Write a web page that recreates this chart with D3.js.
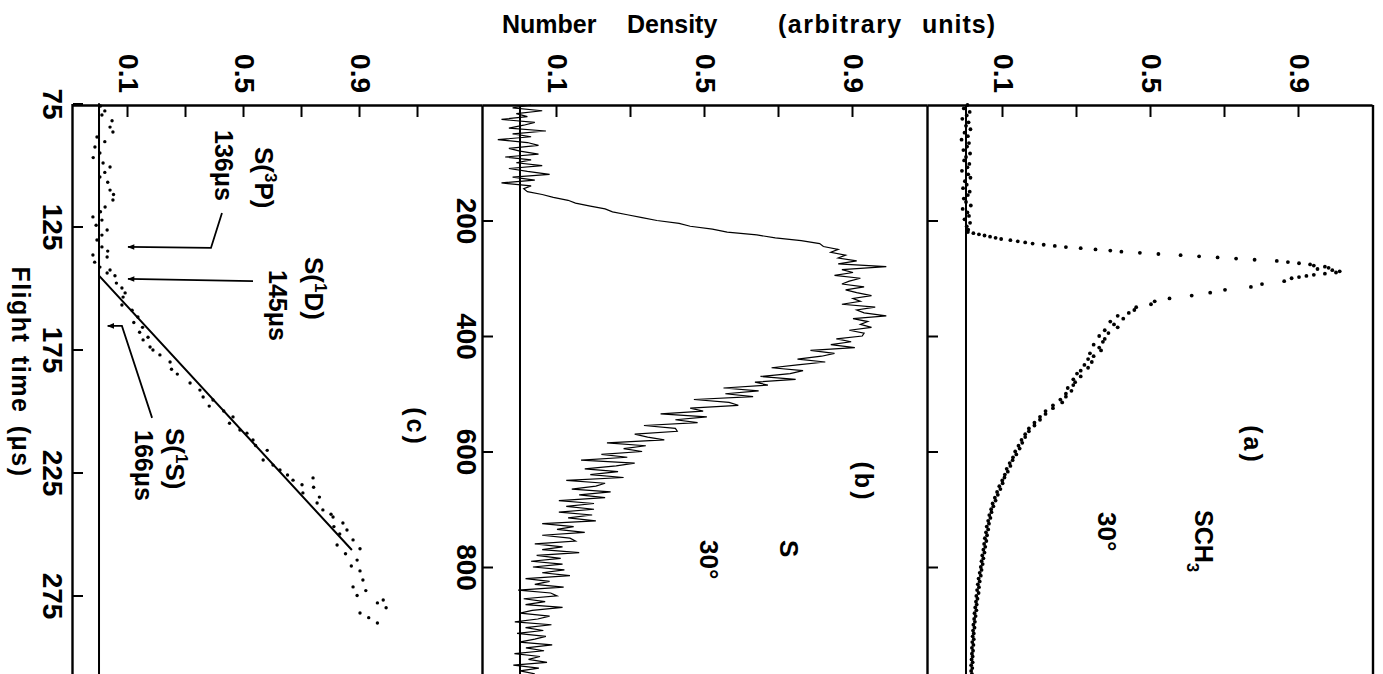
<!DOCTYPE html>
<html><head><meta charset="utf-8">
<script src="https://cdn.jsdelivr.net/npm/d3@7"></script>
<style>
html,body{margin:0;padding:0;background:#fff;}
svg{display:block;}
</style></head><body>
<svg id="chart" width="1383" height="674"></svg>
<script>
// ---------------- DATA ----------------
const densTicksAB = [0.1,0.3,0.5,0.7,0.9];
const densTicksC = [0.1,0.3,0.5,0.7,0.9,1.1];
const densLabels = [0.1,0.5,0.9];
const timeTicksAB = [200,400,600,800];
const timeTicksC = [75,125,175,225,275];
const panelNames = ["(a)","(b)","(c)"];

// (a) SCH3, 30 deg
const aTime = [0,6,12,18,24,30,36,42,48,54,60,66,72,78,84,90,96,102,108,114,120,126,132,138,144,150,156,162,168,174,180,186,192,198,204,210,216,
220,222,224,226,228,230,232,234,236,238,240,242,244,246,248,250,252,254,256,258,260,262,264,266,268,270,272,274,276,278,280,282,284,286,288,290,292,294,296,298,300,
305,310,315,320,325,330,335,340,345,350,355,360,365,370,375,380,385,390,395,400,
405,410,415,420,425,430,435,440,445,450,455,460,465,470,475,480,485,490,495,500,
505,510,515,520,525,530,535,540,545,550,555,560,565,570,575,580,585,590,595,600,
605,610,615,620,625,630,635,640,645,650,655,660,665,670,675,680,685,690,695,700,
705,710,715,720,725,730,735,740,745,750,755,760,765,770,775,780,785,790,795,800,
805,810,815,820,825,830,835,840,845,850,855,860,865,870,875,880,885,890,895,900,
905,910,915,920,925,930,935,940,945,950,955,960,965,970,975,980,985];
const aDens = [0.004,-0.006,0.010,0.002,-0.010,0.007,0.000,0.012,-0.004,0.005,-0.012,0.008,0.003,-0.007,0.011,0.000,-0.005,0.009,0.004,-0.011,0.006,0.012,-0.003,0.002,-0.008,0.010,0.005,-0.006,0.000,0.013,-0.009,0.004,0.008,-0.004,0.011,0.002,0.006,
0.005,0.02,0.035,0.05,0.065,0.08,0.095,0.12,0.14,0.16,0.18,0.21,0.24,0.27,0.31,0.35,0.39,0.42,0.47,0.52,0.58,0.63,0.68,0.73,0.78,0.84,0.87,0.90,0.93,0.94,0.97,0.98,0.95,0.99,1.01,1.00,0.97,0.94,0.92,0.90,0.88,
0.86,0.80,0.77,0.70,0.66,0.61,0.55,0.51,0.50,0.46,0.455,0.44,0.41,0.425,0.39,0.40,0.41,0.375,0.385,0.36,
0.375,0.37,0.345,0.36,0.365,0.335,0.345,0.33,0.34,0.32,0.33,0.31,0.30,0.31,0.29,0.295,0.29,0.275,0.285,0.27,
0.27,0.255,0.26,0.235,0.235,0.215,0.215,0.20,0.20,0.185,0.185,0.17,0.17,0.16,0.16,0.15,0.152,0.142,0.145,0.133,
0.136,0.127,0.126,0.118,0.12,0.11,0.113,0.105,0.104,0.098,0.099,0.09,0.093,0.084,0.086,0.078,0.08,0.072,0.074,0.068,
0.069,0.063,0.066,0.06,0.062,0.056,0.06,0.054,0.057,0.051,0.055,0.049,0.052,0.047,0.05,0.044,0.047,0.042,0.045,0.04,
0.042,0.037,0.04,0.034,0.037,0.032,0.035,0.03,0.034,0.028,0.031,0.027,0.029,0.025,0.028,0.023,0.026,0.022,0.024,0.02,
0.023,0.019,0.021,0.018,0.021,0.017,0.02,0.016,0.019,0.016,0.018,0.015,0.018,0.014,0.017,0.014,0.016];

// (b) S, 30 deg
const bTime = [0,5,10,15,20,25,30,35,40,45,50,55,60,65,70,75,80,85,90,95,
100,105,110,115,120,125,130,135,140,145,150,155,160,165,170,175,180,185,190,195,
200,205,210,215,220,225,230,235,240,245,250,255,260,265,270,275,280,285,290,295,
300,305,310,315,320,325,330,335,340,345,350,355,360,365,370,375,380,385,390,395,
400,405,410,415,420,425,430,435,440,445,450,455,460,465,470,475,480,485,490,495,
500,505,510,515,520,525,530,535,540,545,550,555,560,565,570,575,580,585,590,595,
600,605,610,615,620,625,630,635,640,645,650,655,660,665,670,675,680,685,690,695,
700,705,710,715,720,725,730,735,740,745,750,755,760,765,770,775,780,785,790,795,
800,805,810,815,820,825,830,835,840,845,850,855,860,865,870,875,880,885,890,895,
900,905,910,915,920,925,930,935,940,945,950,955,960,965,970,975,980,985];
const bDens = [0.03,-0.02,0.06,-0.01,0.02,-0.05,0.04,0.01,-0.03,0.07,-0.02,0.03,-0.06,0.02,0.05,-0.03,0.00,0.05,-0.04,0.03,
-0.01,0.06,-0.03,0.02,0.08,-0.02,0.04,-0.05,0.03,0.01,0.02,0.06,0.09,0.13,0.15,0.19,0.23,0.25,0.29,0.33,
0.37,0.43,0.46,0.52,0.56,0.64,0.69,0.76,0.81,0.82,0.86,0.84,0.88,0.86,0.91,0.86,0.99,0.87,0.90,0.85,
0.92,0.89,0.87,0.93,0.88,0.91,0.95,0.90,0.92,0.87,0.96,0.91,0.93,0.99,0.90,0.94,0.92,0.95,0.89,0.93,
0.925,0.855,0.895,0.84,0.905,0.785,0.85,0.815,0.75,0.825,0.75,0.68,0.765,0.73,0.65,0.745,0.635,0.67,0.55,0.645,
0.555,0.63,0.47,0.565,0.59,0.46,0.495,0.38,0.505,0.42,0.48,0.335,0.42,0.425,0.31,0.345,0.39,0.235,0.34,0.28,
0.33,0.22,0.29,0.165,0.31,0.26,0.175,0.265,0.19,0.28,0.125,0.23,0.205,0.14,0.245,0.16,0.23,0.105,0.20,0.125,
0.20,0.105,0.195,0.13,0.205,0.06,0.145,0.10,0.175,0.06,0.135,0.15,0.04,0.115,0.06,0.16,0.045,0.11,0.03,0.115,
0.035,0.12,0.06,0.135,0.015,0.08,0.04,0.118,-0.005,0.083,0.10,0.01,0.068,0.015,0.115,0.033,0.0,0.08,0.048,-0.014,
0.085,0.015,0.063,-0.008,0.07,0.04,-0.002,0.087,0.016,0.065,-0.015,0.054,0.023,0.073,-0.018,0.051,0.0,0.04];

// (c) S, product state fit
const cTime = [76,78,79.7,82,84.6,86.6,88.6,90.5,92.7,95.1,97,99.2,100.8,103,104.9,107,110.2,112,114.2,117.1,119,121.1,122.4,124.5,126.4,128.5,130.5,133.3,135,136.6,137.4,139.5,141.5,142.7,143.9,145,
148,150,152,153.7,156.9,159,161.8,164,166,168,170,171.1,174,175.2,177.2,180.1,183,185,188.6,191.5,194.3,195.5,198,200,202.4,205,207.7,209,211.8,214,216,219.9,222,224,226,227.2,228.1,230,231,233.3,235,237.4,240.2,242,243.1,245.5,247,248.4,250,252.4,254.5,256,258,260.6,263,265,268.7,271.5,273,275,276.8,278,280,282.1,284,286.2];
const cDens = [0.005,0.02,0.01,0.045,0.038,0.048,-0.007,0.02,-0.014,0.003,-0.02,0.014,0.038,0.02,0.003,0.03,0.038,0.05,0.048,0.021,0.005,-0.021,0.01,-0.01,0.028,0.01,-0.007,0.01,0.03,-0.021,0.028,-0.015,0.003,0.038,0.028,0.055,
0.06,0.079,0.09,0.083,0.079,0.114,0.134,0.12,0.15,0.14,0.169,0.152,0.176,0.186,0.21,0.245,0.25,0.27,0.314,0.348,0.359,0.393,0.38,0.43,0.462,0.45,0.486,0.51,0.531,0.54,0.58,0.566,0.60,0.624,0.65,0.738,0.669,0.70,0.74,0.703,0.76,0.752,0.772,0.80,0.807,0.841,0.81,0.855,0.83,0.876,0.821,0.90,0.85,0.89,0.87,0.90,0.91,0.876,0.92,0.89,0.98,0.96,0.99,0.90,0.93,0.96];
const cFitTime = [75,145,256.5];
const cFitDens = [0,0,0.872];

// annotation arrows in panel (c) units [time, density]
const arrowS3P = [[119.5,0.424],[133.7,0.386],[133.3,0.10]];
const arrowS1D = [[147.2,0.531],[146.3,0.10]];
const arrowS1S = [[202.8,0.183],[165.4,0.079],[165.4,0.03]];

// ---------------- DRAW ----------------
const W = 1383, H = 674;
const FONT = '"Liberation Sans", Arial, sans-serif';
const svg = d3.select('#chart');
svg.append('rect').attr('width', W).attr('height', H).attr('fill', '#fff');

// whole figure drawn upright, then turned 90 degrees clockwise
const g = svg.append('g').attr('transform', `translate(${W},0) rotate(90)`);

const tAB = d3.scaleLinear().domain([0, 1000]).range([105, 682.5]);
const tC  = d3.scaleLinear().domain([75, 310]).range([103.5, 681.6]);
const dA = d3.scaleLinear().domain([-0.1027, 1.1]).range([455, 10]);
const dB = d3.scaleLinear().domain([-0.1, 1.1027]).range([900, 455]);
const dC = d3.scaleLinear().domain([-0.0897, 1.3241]).range([1310, 900]);

const fmtD = d => densLabels.some(v => Math.abs(v - d) < 1e-9) ? d3.format('.1f')(d) : '';

function styleAxis(sel, fs) {
  sel.select('.domain').attr('stroke', '#000').attr('stroke-width', 2.4);
  sel.selectAll('.tick line').attr('stroke', '#000').attr('stroke-width', 2);
  sel.selectAll('.tick text').attr('font-size', fs).attr('font-family', FONT)
     .attr('font-weight', 'bold').attr('fill', '#000');
}

// density axes (original left side)
[[dA, densTicksAB], [dB, densTicksAB], [dC, densTicksC]].forEach(([sc, tv]) => {
  g.append('g').attr('transform', 'translate(105,0)')
    .call(d3.axisLeft(sc).tickValues(tv).tickFormat(fmtD).tickSizeInner(-12).tickSizeOuter(0).tickPadding(12))
    .call(s => styleAxis(s, 28));
});

// time axes (original bottom side of each panel)
g.append('g').attr('transform', `translate(0,${dA(-0.1027)})`)
  .call(d3.axisBottom(tAB).tickValues(timeTicksAB).tickFormat('').tickSizeInner(-10).tickSizeOuter(0))
  .call(s => styleAxis(s, 28));
g.append('g').attr('transform', `translate(0,${dB(-0.1)})`)
  .call(d3.axisBottom(tAB).tickValues(timeTicksAB).tickFormat(d3.format('d')).tickSizeInner(-10).tickSizeOuter(0).tickPadding(6))
  .call(s => styleAxis(s, 28));
g.append('g').attr('transform', `translate(0,${dC(-0.0897)})`)
  .call(d3.axisBottom(tC).tickValues(timeTicksC).tickFormat(d3.format('d')).tickSizeInner(-10).tickSizeOuter(0).tickPadding(10))
  .call(s => styleAxis(s, 28));

// top border of panel (a)
g.append('line').attr('x1', tAB(0)).attr('x2', tAB(1000)).attr('y1', dA(1.1)).attr('y2', dA(1.1))
  .attr('stroke', '#000').attr('stroke-width', 2.4);

// zero lines
[[tAB, dA, 0, 1000], [tAB, dB, 0, 1000], [tC, dC, 75, 310]].forEach(([ts, ds, t0, t1]) => {
  g.append('line').attr('x1', ts(t0)).attr('x2', ts(t1)).attr('y1', ds(0)).attr('y2', ds(0))
    .attr('stroke', '#000').attr('stroke-width', 2);
});

// (a) data dots
g.append('g').selectAll('circle').data(aTime.map((t, i) => [t, aDens[i]])).join('circle')
  .attr('cx', d => tAB(d[0])).attr('cy', d => dA(d[1])).attr('r', 1.9).attr('fill', '#000');

// (b) data trace
g.append('path').datum(bTime.map((t, i) => [t, bDens[i]]))
  .attr('d', d3.line().x(d => tAB(d[0])).y(d => dB(d[1])))
  .attr('fill', 'none').attr('stroke', '#000').attr('stroke-width', 1.2);

// (c) data dots + fit line
g.append('g').selectAll('circle').data(cTime.map((t, i) => [t, cDens[i]])).join('circle')
  .attr('cx', d => tC(d[0])).attr('cy', d => dC(d[1])).attr('r', 1.7).attr('fill', '#000');
g.append('path').datum(cFitTime.map((t, i) => [t, cFitDens[i]]))
  .attr('d', d3.line().x(d => tC(d[0])).y(d => dC(d[1])))
  .attr('fill', 'none').attr('stroke', '#000').attr('stroke-width', 2);

// arrows
svg.append('defs').append('marker').attr('id', 'ah').attr('viewBox', '0 0 10 10')
  .attr('refX', 9).attr('refY', 5).attr('markerWidth', 9).attr('markerHeight', 7)
  .attr('markerUnits', 'userSpaceOnUse').attr('orient', 'auto')
  .append('path').attr('d', 'M0,1 L10,5 L0,9 Z').attr('fill', '#000');
const arrowLine = d3.line().x(d => tC(d[0])).y(d => dC(d[1]));
[arrowS3P, arrowS1D, arrowS1S].forEach(a => {
  g.append('path').attr('d', arrowLine(a)).attr('fill', 'none').attr('stroke', '#000')
    .attr('stroke-width', 1.8).attr('marker-end', 'url(#ah)');
});

// texts inside rotated frame
function txt(x, y, s, fs, anchor) {
  return g.append('text').attr('x', x).attr('y', y).attr('font-family', FONT).attr('font-weight', 'bold')
    .attr('font-size', fs).attr('fill', '#000').attr('text-anchor', anchor || 'start').text(s);
}
// panel letters
txt(445, 139, panelNames[0], 25, 'middle').attr('letter-spacing', 3);
txt(482, 528, panelNames[1], 25, 'middle').attr('letter-spacing', 3);
txt(427, 976, panelNames[2], 25, 'middle').attr('letter-spacing', 3);
// species labels
const sch = txt(510, 188, 'SCH', 25);
sch.append('tspan').attr('font-size', 17).attr('dy', 8).text('3');
txt(512, 285, '30°', 26);
txt(540, 603, 'S', 26);
txt(540, 683, '30°', 26);
// state labels
const s3p = txt(147, 1128, 'S(', 26);
s3p.append('tspan').attr('font-size', 17).attr('dy', -10).text('3');
s3p.append('tspan').attr('dy', 10).text('P)');
txt(130, 1168, '136\u03bcs', 25);
const s1d = txt(257, 1078, 'S(', 26);
s1d.append('tspan').attr('font-size', 17).attr('dy', -10).text('1');
s1d.append('tspan').attr('dy', 10).text('D)');
txt(270, 1114, '145\u03bcs', 25);
const s1s = txt(428, 1217, 'S(', 26);
s1s.append('tspan').attr('font-size', 17).attr('dy', -10).text('1');
s1s.append('tspan').attr('dy', 10).text('S)');
txt(430, 1248, '166\u03bcs', 25);
// time axis title
txt(372, 1371, 'Flight time (\u03bcs)', 25, 'middle').attr('letter-spacing', 1.5).attr('word-spacing', 4);

// density axis title (horizontal in the final picture)
const title = svg.append('text').attr('y', 33).attr('font-family', FONT).attr('font-weight', 'bold')
  .attr('font-size', 25).attr('fill', '#000');
title.append('tspan').attr('x', 502).text('Number');
title.append('tspan').attr('x', 627).text('Density');
title.append('tspan').attr('x', 778).attr('letter-spacing', 1.5).text('(arbitrary');
title.append('tspan').attr('x', 922).attr('letter-spacing', 1).text('units)');
</script>
</body></html>
